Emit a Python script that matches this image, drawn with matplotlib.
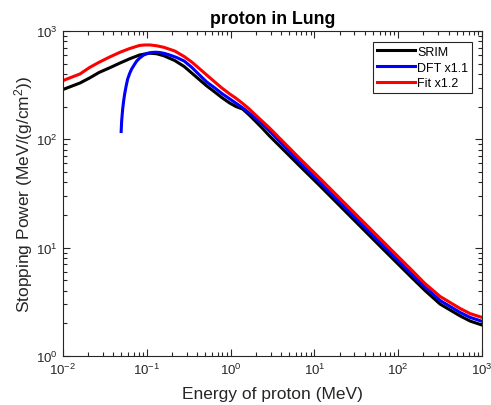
import numpy as np
import matplotlib
matplotlib.use("Agg")
import matplotlib.pyplot as plt
from matplotlib.ticker import LogLocator, LogFormatterMathtext, NullFormatter

# ---- data (energy in MeV, stopping power) ----
srim_E = [0.01, 0.012, 0.016, 0.0208, 0.027, 0.0361, 0.048, 0.0627, 0.082, 0.0946,
          0.11, 0.132, 0.16, 0.216, 0.28, 0.345, 0.43, 0.521, 0.65, 0.787, 0.98,
          1.157, 1.4, 1.654, 2.0, 2.366, 2.9, 6.7, 11.7, 26.6, 61, 91.8, 139,
          209, 317, 550, 723, 1000]
srim_S = [288, 304, 331, 368, 414, 457, 506, 554, 600, 613,
          624, 616, 591, 534, 470, 409, 353, 311, 273, 243, 216,
          201, 190, 169, 146, 128, 108, 56.7, 37.1, 19.6, 10.3, 7.52, 5.47,
          4.02, 3.01, 2.34, 2.10, 1.93]

dft_E = [0.0496, 0.0503, 0.0517, 0.0531, 0.0546, 0.0569, 0.0593, 0.0626, 0.0662,
         0.0709, 0.076, 0.0825, 0.092, 0.1028, 0.115, 0.128, 0.143, 0.164, 0.188,
         0.228, 0.28, 0.345, 0.43, 0.521, 0.65, 0.787, 0.98, 1.157, 1.4, 1.654,
         2.0, 2.366, 2.9, 6.7, 11.7, 26.6, 61, 91.8, 139, 209, 317, 550, 723, 1000]
dft_S = [118, 148, 190, 226, 262, 311, 360, 405, 446,
         486, 528, 563, 600, 623, 633, 637, 633, 620, 600,
         569, 528, 462, 390, 338, 298, 265, 236, 216, 195, 176,
         157, 140, 120, 61.1, 39.9, 21.1, 11.1, 8.10, 5.89, 4.33, 3.25, 2.52, 2.27, 2.09]

fit_E = [0.01, 0.012, 0.016, 0.0208, 0.027, 0.0361, 0.048, 0.0627, 0.082, 0.0946,
         0.11, 0.132, 0.16, 0.216, 0.28, 0.345, 0.43, 0.521, 0.65, 0.787, 0.98,
         1.157, 1.4, 1.654, 2.0, 2.366, 2.9, 6.7, 11.7, 26.6, 61, 91.8, 139,
         209, 317, 550, 723, 1000]
fit_S = [348, 368, 401, 460, 514, 575, 636, 689, 735, 743,
         743, 730, 707, 654, 581, 517, 446, 392, 338, 298, 262,
         240, 214, 192, 167, 148, 128, 66.5, 43.5, 23.0, 12.1, 8.82, 6.41,
         4.66, 3.54, 2.74, 2.46, 2.27]

TITLE = 'proton in Lung'
XLABEL = 'Energy of proton (MeV)'
YLABEL = 'Stopping Power (MeV/(g/cm$^2$))'
GRAY = '#262626'

plt.rcParams['font.family'] = ['Liberation Sans', 'DejaVu Sans']
plt.rcParams['mathtext.fontset'] = 'custom'
plt.rcParams['mathtext.rm'] = 'Liberation Sans'
plt.rcParams['mathtext.it'] = 'Liberation Sans'
plt.rcParams['mathtext.default'] = 'regular'

fig = plt.figure(figsize=(4.91, 4.06), dpi=100)
ax = fig.add_axes([0.128, 0.1207, 0.8537, 0.8005])

ax.plot(srim_E, srim_S, color='black', lw=2.2, label='SRIM')
ax.plot(dft_E, dft_S, color='#0000ff', lw=2.2, label='DFT x1.1')
ax.plot(fit_E, fit_S, color='#ff0000', lw=2.2, label='Fit x1.2')

ax.set_xscale('log')
ax.set_yscale('log')
ax.set_xlim(1e-2, 1e3)
ax.set_ylim(1e0, 1e3)

ax.xaxis.set_major_locator(LogLocator(base=10, numticks=10))
ax.yaxis.set_major_locator(LogLocator(base=10, numticks=10))
ax.xaxis.set_minor_locator(LogLocator(base=10, subs=np.arange(2, 10), numticks=20))
ax.yaxis.set_minor_locator(LogLocator(base=10, subs=np.arange(2, 10), numticks=20))
ax.xaxis.set_major_formatter(LogFormatterMathtext())
ax.yaxis.set_major_formatter(LogFormatterMathtext())
ax.xaxis.set_minor_formatter(NullFormatter())
ax.yaxis.set_minor_formatter(NullFormatter())

ax.tick_params(which='both', direction='in', top=True, right=True,
               colors=GRAY, labelsize=9.5, width=0.8)
ax.tick_params(which='major', length=5, pad=4)
ax.tick_params(which='minor', length=3)
for s in ax.spines.values():
    s.set_color(GRAY)
    s.set_linewidth(0.8)

ax.set_title(TITLE, fontsize=12.8, fontweight='bold', pad=6)
ax.set_xlabel(XLABEL, fontsize=12.5, color=GRAY)
ax.set_ylabel(YLABEL, fontsize=12.5, color=GRAY)
ax.xaxis.set_label_coords(0.5, -0.092)
ax.yaxis.set_label_coords(-0.067, 0.5)

leg = ax.legend(loc='upper right', bbox_to_anchor=(0.976, 0.966), borderaxespad=0,
                fontsize=9, handlelength=3.0, handletextpad=0.2, borderpad=0.3,
                labelspacing=0.3, fancybox=False, framealpha=1)
leg.get_frame().set_edgecolor(GRAY)
leg.get_frame().set_linewidth(0.8)

fig.savefig('out.png', dpi=100)
